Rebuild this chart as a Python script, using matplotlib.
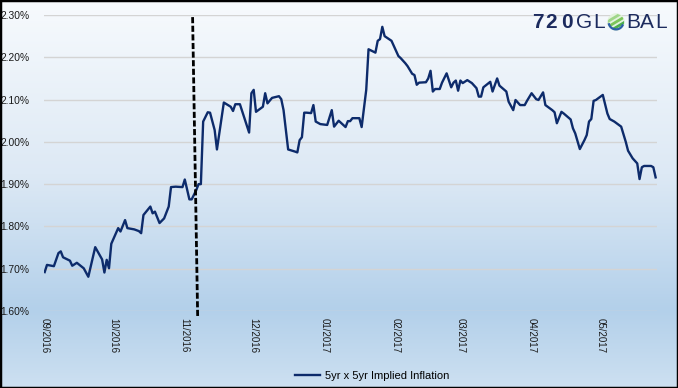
import numpy as np
import pandas as pd
import matplotlib
matplotlib.use("Agg")
import matplotlib.pyplot as plt
import matplotlib.dates as mdates
from matplotlib.colors import LinearSegmentedColormap
from matplotlib.patches import Rectangle, Circle

# 5yr x 5yr implied inflation, days counted from 2016-09-01
start = pd.Timestamp("2016-09-01")
days = [0, 1, 4, 6, 7, 8, 11, 12, 14, 17, 19, 22, 25, 26, 27, 28, 29, 32, 33, 35,
        36, 39, 41, 42, 43, 46, 47, 48, 50, 52, 54, 55, 57, 60, 61, 63, 64, 66, 67, 68,
        69, 71, 72, 74, 75, 78, 81, 82, 83, 85, 89, 90, 91, 92, 95, 96, 97, 99, 102, 103,
        104, 106, 109, 110, 111, 112, 113, 114, 116, 117, 118, 120, 123, 125, 126, 128, 131, 132, 133, 134,
        137, 138, 140, 141, 144, 145, 146, 147, 148, 151, 154, 155, 157, 158, 160, 161, 162, 163, 166, 167,
        168, 169, 170, 172, 173, 175, 177, 178, 179, 180, 181, 182, 184, 186, 188, 189, 190, 191, 194, 195,
        197, 198, 201, 202, 204, 205, 207, 209, 210, 212, 214, 215, 217, 218, 221, 222, 223, 225, 226, 229,
        230, 231, 233, 235, 236, 237, 238, 239, 240, 243, 245, 246, 248, 251, 253, 254, 256, 258, 259, 260,
        261, 264, 265, 266]
inflation = [1.692, 1.709, 1.706, 1.737, 1.741, 1.727, 1.719, 1.707, 1.714, 1.701, 1.681, 1.751, 1.722, 1.691, 1.721, 1.701, 1.759, 1.796, 1.788, 1.815,
             1.796, 1.793, 1.789, 1.784, 1.827, 1.847, 1.831, 1.835, 1.808, 1.819, 1.847, 1.893, 1.894, 1.893, 1.911, 1.864, 1.864, 1.886, 1.900, 1.900,
             2.048, 2.070, 2.069, 2.028, 1.982, 2.093, 2.083, 2.073, 2.089, 2.089, 2.022, 2.115, 2.123, 2.071, 2.083, 2.115, 2.091, 2.104, 2.108, 2.101,
             2.075, 1.982, 1.977, 1.975, 2.004, 2.011, 2.069, 2.069, 2.068, 2.087, 2.048, 2.042, 2.040, 2.075, 2.036, 2.050, 2.035, 2.049, 2.049, 2.056,
             2.056, 2.035, 2.123, 2.219, 2.211, 2.239, 2.243, 2.272, 2.250, 2.239, 2.203, 2.198, 2.186, 2.179, 2.161, 2.158, 2.135, 2.140, 2.141, 2.150,
             2.168, 2.119, 2.125, 2.125, 2.140, 2.162, 2.129, 2.140, 2.145, 2.121, 2.145, 2.139, 2.146, 2.139, 2.127, 2.107, 2.107, 2.129, 2.142, 2.119,
             2.150, 2.133, 2.119, 2.095, 2.075, 2.099, 2.087, 2.087, 2.097, 2.115, 2.101, 2.099, 2.117, 2.087, 2.075, 2.070, 2.044, 2.071, 2.067, 2.053,
             2.032, 2.020, 1.983, 2.004, 2.016, 2.048, 2.054, 2.097, 2.099, 2.111, 2.067, 2.054, 2.048, 2.036, 2.000, 1.979, 1.961, 1.949, 1.912, 1.940,
             1.943, 1.943, 1.940, 1.916]

# hand-drawn election marker (slightly slanted dashed line)
election_days = [64.4, 66.6]
election_vals = [2.295, 1.588]

y_ticks = [1.60, 1.70, 1.80, 1.90, 2.00, 2.10, 2.20, 2.30]
series_label = "5yr x 5yr Implied Inflation"

dates = start + pd.to_timedelta(days, unit="D")
e_dates = start + pd.to_timedelta(election_days, unit="D")

W, H = 678, 388
fig = plt.figure(figsize=(W / 100, H / 100), dpi=100)
plt.rcParams["font.family"] = ["Liberation Sans", "DejaVu Sans"]

# background gradient
bg = fig.add_axes([0, 0, 1, 1], zorder=-10)
cmap = LinearSegmentedColormap.from_list(
    "bg", [(0, "#f7fafd"), (0.45, "#dde9f5"), (0.8, "#b3d0ea"), (1.0, "#cde0f1")])
grad = np.linspace(0, 1, 256).reshape(-1, 1)
bg.imshow(grad, aspect="auto", cmap=cmap, extent=[0, 1, 0, 1], origin="upper")
bg.set_axis_off()

ax = fig.add_axes([44 / W, 1 - 311 / H, (657 - 44) / W, (311 - 15) / H])
ax.set_facecolor("none")

ax.plot(dates, inflation, color="#0d2b6b", lw=1.7, label=series_label, zorder=3,
        solid_joinstyle="round")
ax.plot(e_dates, election_vals, color="black", lw=2.0, linestyle=(0, (2.2, 0.9)),
        clip_on=False, zorder=4)

ax.set_ylim(1.60, 2.30)
ax.set_yticks(y_ticks)
ax.yaxis.set_major_formatter(plt.FuncFormatter(lambda v, p: f"{v:.2f}%"))
ax.set_xlim(start - pd.Timedelta(days=0.3), start + pd.Timedelta(days=266.6))
ax.xaxis.set_major_locator(mdates.MonthLocator())
ax.xaxis.set_major_formatter(mdates.DateFormatter("%m/%Y"))

ax.grid(axis="y", color="#d4d4d4", lw=1.0)
ax.grid(axis="x", visible=False)
ax.set_axisbelow(True)
for s in ax.spines.values():
    s.set_visible(False)
ax.tick_params(axis="y", length=0, pad=10.5, labelsize=7.4, labelcolor="#1a1a1a")
ax.tick_params(axis="x", length=0, pad=5, labelsize=7.0, labelcolor="#1a1a1a")
for lbl in ax.get_xticklabels():
    lbl.set_rotation(270)
    lbl.set_ha("center")
    lbl.set_va("top")

fig.legend(loc="center", bbox_to_anchor=(372 / W, 1 - 376 / H), frameon=False,
           fontsize=8, handlelength=2.3, handletextpad=0.4, borderpad=0)

# 720GLOBAL logo
navy = "#1c2b5e"
logo_y = 1 - 22 / H
for ch, xc, bold in [("7", 537.5, True), ("2", 551.5, True), ("0", 566.5, True),
                     ("G", 584, False), ("L", 599.5, False),
                     ("B", 633.5, False), ("A", 647, False), ("L", 661, False)]:
    fig.text(xc / W, logo_y, ch, ha="center", va="center", fontsize=15,
             color=navy, fontweight="bold" if bold else "normal")
gax = fig.add_axes([(616 - 9) / W, 1 - (22 + 9) / H, 18 / W, 18 / H])
gax.set_xlim(-1, 1)
gax.set_ylim(-1, 1)
gax.set_aspect("equal")
gax.set_axis_off()
globe = Circle((0, 0), 0.9, color="#e4f3de")
gax.add_patch(globe)
for off, col in [(-0.6, "#4cae4f"), (0.0, "#7cc65a"), (0.6, "#9fd68a")]:
    xs = np.linspace(-1, 1, 50)
    ln, = gax.plot(xs, 0.6 * xs + off, color=col, lw=2.0)
    ln.set_clip_path(globe)
arc_t = np.linspace(np.pi * 1.1, np.pi * 1.85, 40)
gax.plot(0.82 * np.cos(arc_t), 0.82 * np.sin(arc_t), color="#2d5fa8", lw=1.6)

fig.patches.append(Rectangle((0, 0), 1, 1, transform=fig.transFigure, fill=False,
                             edgecolor="black", lw=2.5))

fig.savefig("out.png", dpi=100)
